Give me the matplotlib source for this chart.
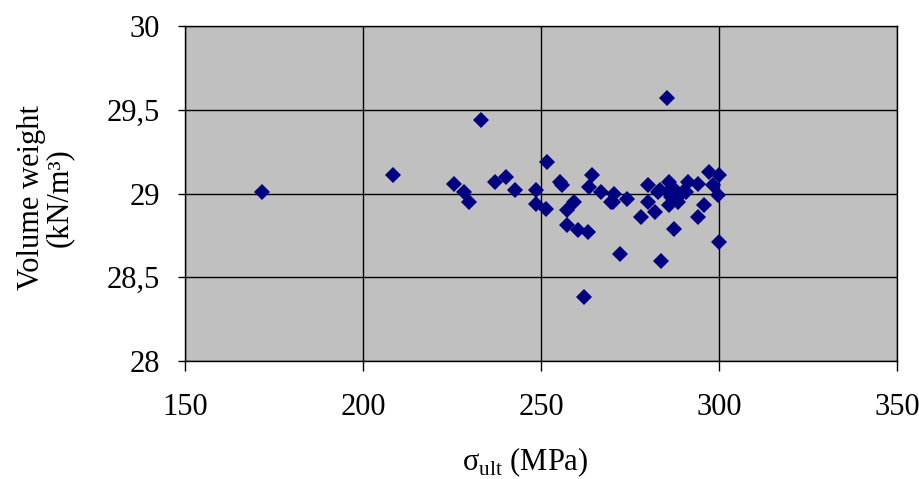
import matplotlib.pyplot as plt

# data (sigma_ult in MPa, volume weight in kN/m3)
sigma_ult = [171.6, 208.5, 225.6, 228.4, 229.8, 233.2, 237.1, 240.2, 242.7,
             248.6, 248.6, 251.4, 251.7, 255.3, 256.0, 264.3, 263.4, 266.8,
             270.4, 270.2, 274.1, 259.2, 257.3, 257.3, 260.4, 263.2, 272.1,
             262.0, 280.0, 280.0, 278.0, 281.9, 283.3, 285.9, 285.9, 287.3,
             288.4, 287.3, 283.6, 291.2, 290.6, 294.0, 295.7, 294.0, 297.1,
             300.1, 298.2, 299.6, 299.9, 285.3, 282.8, 285.6, 289.8, 286.4,
             269.6]
vol_weight = [29.01, 29.11, 29.06, 29.01, 28.95, 29.44, 29.07, 29.10, 29.02,
              29.02, 28.94, 28.91, 29.19, 29.07, 29.05, 29.11, 29.04, 29.01,
              29.00, 28.95, 28.97, 28.95, 28.90, 28.81, 28.78, 28.77, 28.64,
              28.38, 29.05, 28.95, 28.86, 28.89, 29.02, 29.07, 28.93, 29.03,
              28.95, 28.79, 28.60, 29.07, 29.01, 29.06, 28.93, 28.86, 29.13,
              29.11, 29.05, 28.99, 28.71, 29.57, 29.01, 29.01, 29.01, 28.98,
              28.95]

x_ticks = [150, 200, 250, 300, 350]
y_ticks = [28, 28.5, 29, 29.5, 30]
y_labels = ['28', '28,5', '29', '29,5', '30']

plt.rcParams['font.family'] = ['Liberation Serif', 'DejaVu Serif']
plt.rcParams['mathtext.fontset'] = 'custom'
plt.rcParams['mathtext.rm'] = 'Liberation Serif'

fig = plt.figure(figsize=(9.2, 4.79), dpi=100)
ax = fig.add_axes([0.2011, 0.2463, 0.774, 0.699])
ax.set_facecolor('#c0c0c0')

ax.plot(sigma_ult, vol_weight, 'D', color='#000080', markersize=8,
        markeredgewidth=0, zorder=3)

ax.set_xlim(150, 350)
ax.set_ylim(28, 30)
ax.set_xticks(x_ticks)
ax.set_yticks(y_ticks)
ax.set_yticklabels(y_labels)
ax.tick_params(labelsize=22, width=1, color='black')
ax.tick_params(axis='x', length=7, pad=16)
ax.tick_params(axis='y', length=5, pad=13)
ax.grid(True, color='black', linewidth=1)
ax.set_axisbelow(True)
for s in ax.spines.values():
	s.set_color('black')
	s.set_linewidth(1)

fig.text(525/920, 1-462/479, r'σ$_{\mathrm{ult}}$ (MPa)', fontsize=22,
         ha='center', va='center')
fig.text(45/920, 1-198/479, 'Volume weight\n(kN/m³)', fontsize=22,
         ha='center', va='center', rotation=90, linespacing=0.95,
         multialignment='center')

plt.savefig('out.png', dpi=100)
